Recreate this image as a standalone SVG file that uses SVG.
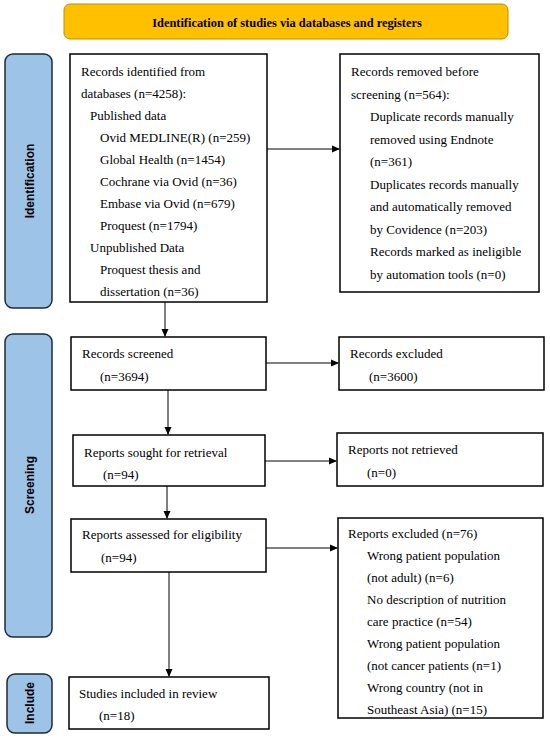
<svg xmlns="http://www.w3.org/2000/svg" width="550" height="739" viewBox="0 0 550 739">
<defs>
<marker id="ah" markerWidth="8" markerHeight="8" refX="7" refY="4" orient="auto" markerUnits="userSpaceOnUse">
<path d="M0,0.5 L8,4 L0,7.5 Z" fill="#000"/>
</marker>
<style>
.box{fill:#fff;stroke:#000;stroke-width:1.5}
.side{fill:#9DC3E6;stroke:#1F2A3A;stroke-width:1.5}
.t{font-family:"Liberation Serif","Times New Roman",serif;font-size:13px;fill:#000}
.st{font-family:"Liberation Sans",Arial,sans-serif;font-size:12px;font-weight:bold;fill:#000;text-anchor:middle;dominant-baseline:central}
.c{stroke:#000;stroke-width:1;fill:none;marker-end:url(#ah)}
</style>
</defs>
<rect width="550" height="739" fill="#fff"/>

<g id="banner">
<rect x="64" y="4" width="444" height="35" rx="6" fill="#FFC000" stroke="#BF9000" stroke-width="1"/>
<text x="287" y="27" font-family="'Liberation Serif','Times New Roman',serif" font-size="12.4" font-weight="bold" text-anchor="middle">Identification of studies via databases and registers</text>
</g>

<g id="side-identification">
<rect class="side" x="5" y="54" width="47" height="254" rx="8"/>
<text class="st" transform="translate(30,181) rotate(-90)">Identification</text>
</g>
<g id="side-screening">
<rect class="side" x="5" y="334" width="47" height="303" rx="8"/>
<text class="st" transform="translate(30,485) rotate(-90)">Screening</text>
</g>
<g id="side-include">
<rect class="side" x="7" y="674" width="45" height="59" rx="8"/>
<text class="st" transform="translate(30,703) rotate(-90)">Include</text>
</g>

<g id="records-identified">
<rect class="box" x="70" y="54" width="197" height="248"/>
<text class="t" x="81" y="76">Records identified from</text>
<text class="t" x="81" y="98">databases (n=4258):</text>
<text class="t" x="90" y="120">Published data</text>
<text class="t" x="100" y="142">Ovid MEDLINE(R) (n=259)</text>
<text class="t" x="100" y="164">Global Health (n=1454)</text>
<text class="t" x="100" y="186">Cochrane via Ovid (n=36)</text>
<text class="t" x="100" y="208">Embase via Ovid (n=679)</text>
<text class="t" x="100" y="230">Proquest (n=1794)</text>
<text class="t" x="90" y="252">Unpublished Data</text>
<text class="t" x="100" y="274">Proquest thesis and</text>
<text class="t" x="100" y="296">dissertation (n=36)</text>
</g>

<g id="records-removed">
<rect class="box" x="340" y="54" width="199" height="238"/>
<text class="t" x="351" y="76">Records removed before</text>
<text class="t" x="351" y="98.5">screening (n=564):</text>
<text class="t" x="370" y="121">Duplicate records manually</text>
<text class="t" x="370" y="143.5">removed using Endnote</text>
<text class="t" x="370" y="166">(n=361)</text>
<text class="t" x="370" y="188.5">Duplicates records manually</text>
<text class="t" x="370" y="211">and automatically removed</text>
<text class="t" x="370" y="233.5">by Covidence (n=203)</text>
<text class="t" x="370" y="256">Records marked as ineligible</text>
<text class="t" x="370" y="278.5">by automation tools (n=0)</text>
</g>

<g id="records-screened">
<rect class="box" x="71" y="337" width="195" height="53"/>
<text class="t" x="82" y="358">Records screened</text>
<text class="t" x="100" y="381">(n=3694)</text>
</g>

<g id="records-excluded">
<rect class="box" x="339" y="337" width="205" height="53"/>
<text class="t" x="350" y="358">Records excluded</text>
<text class="t" x="369" y="381">(n=3600)</text>
</g>

<g id="reports-sought">
<rect class="box" x="73" y="435" width="192" height="51"/>
<text class="t" x="84" y="457">Reports sought for retrieval</text>
<text class="t" x="103" y="479">(n=94)</text>
</g>

<g id="reports-not-retrieved">
<rect class="box" x="337" y="433" width="206" height="53"/>
<text class="t" x="348" y="454">Reports not retrieved</text>
<text class="t" x="367" y="477">(n=0)</text>
</g>

<g id="reports-assessed">
<rect class="box" x="71" y="519" width="195" height="53"/>
<text class="t" x="82" y="539">Reports assessed for eligibility</text>
<text class="t" x="101" y="562">(n=94)</text>
</g>

<g id="reports-excluded">
<rect class="box" x="338" y="518" width="205" height="200"/>
<text class="t" x="348" y="538">Reports excluded (n=76)</text>
<text class="t" x="367" y="560">Wrong patient population</text>
<text class="t" x="367" y="582">(not adult) (n=6)</text>
<text class="t" x="367" y="604">No description of nutrition</text>
<text class="t" x="367" y="626">care practice (n=54)</text>
<text class="t" x="367" y="648">Wrong patient population</text>
<text class="t" x="367" y="670">(not cancer patients (n=1)</text>
<text class="t" x="367" y="692">Wrong country (not in</text>
<text class="t" x="367" y="714">Southeast Asia) (n=15)</text>
</g>

<g id="studies-included">
<rect class="box" x="69" y="677" width="200" height="52"/>
<text class="t" x="79" y="698">Studies included in review</text>
<text class="t" x="99" y="720">(n=18)</text>
</g>

<g id="connectors">
<line class="c" x1="267" y1="149" x2="339" y2="149"/>
<line class="c" x1="165" y1="302" x2="165" y2="336"/>
<line class="c" x1="266" y1="363" x2="338" y2="363"/>
<line class="c" x1="168" y1="390" x2="168" y2="434"/>
<line class="c" x1="265" y1="461" x2="336" y2="461"/>
<line class="c" x1="167" y1="486" x2="167" y2="518"/>
<line class="c" x1="266" y1="548" x2="337" y2="548"/>
<line class="c" x1="169" y1="572" x2="169" y2="676"/>
</g>
</svg>
